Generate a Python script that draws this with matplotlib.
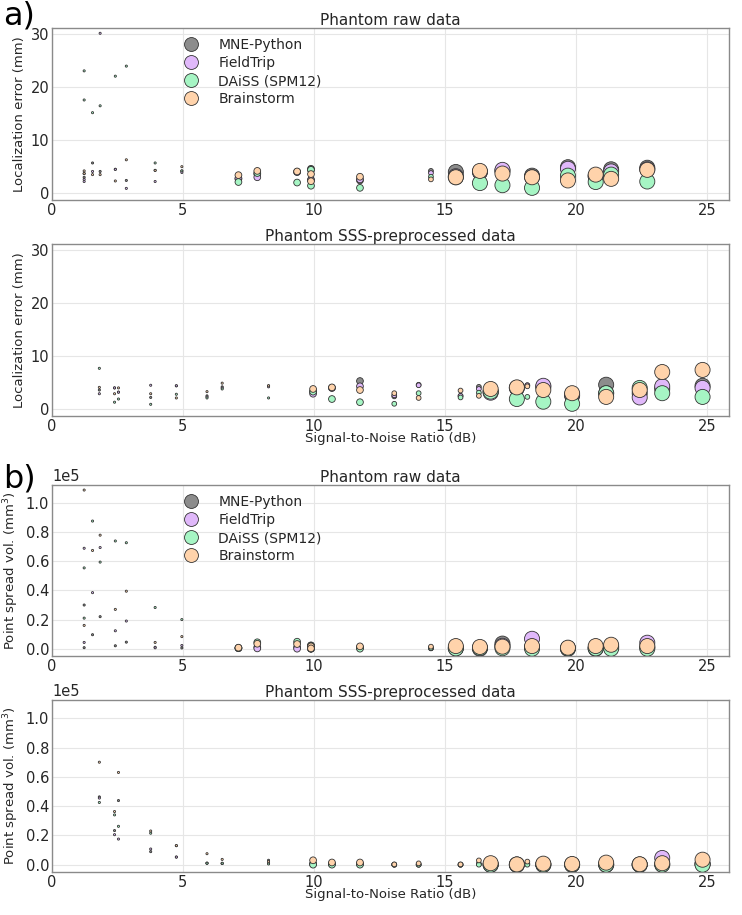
import numpy as np
import matplotlib.pyplot as plt
from matplotlib.lines import Line2D


### Data ############################################################
methods = ['MNE-Python', 'FieldTrip', 'DAiSS (SPM12)', 'Brainstorm']
colors = ['#8c8c8c', '#e0b8fa', '#a6f5c4', '#ffd3ab']

# raw data: SNR (dB) and dipole amplitude (nAm) per dipole
raw_snr = [1.23, 1.23, 1.55, 1.84, 2.42, 2.84, 3.94, 4.96,
           7.12, 7.84, 9.36, 9.89, 9.89, 11.76, 14.47,
           15.42, 16.34, 17.2, 18.33, 19.7, 20.76, 21.35, 22.73]
raw_amp = [20] * 8 + [200] * 6 + [100] + [1000] * 8

# localization error (mm), raw data
raw_loc_mne = [3.7, 3.0, 5.7, 4.1, 4.5, 2.4, 4.3, 4.2,
               2.7, 3.6, 4.0, 4.6, 2.5, 2.4, 4.2,
               4.0, 4.0, 4.2, 3.3, 4.9, 3.2, 4.5, 4.8]
raw_loc_ft = [2.2, 2.6, 4.1, 30.2, 4.5, 0.9, 2.2, 3.9,
              2.8, 3.0, 4.0, 4.4, 2.5, 2.6, 3.8,
              3.2, 4.0, 4.4, 3.0, 4.6, 3.2, 4.1, 4.5]
raw_loc_daiss = [23.1, 17.6, 15.2, 16.5, 22.1, 24.0, 5.7, 4.2,
                 2.1, 3.8, 2.0, 4.4, 1.4, 1.0, 3.1,
                 3.0, 1.9, 1.5, 1.0, 3.3, 2.1, 3.5, 2.2]
raw_loc_bst = [4.2, 3.7, 3.5, 3.5, 2.3, 6.3, 4.3, 5.0,
               3.4, 4.2, 4.1, 3.6, 2.25, 3.1, 2.6,
               3.0, 4.2, 3.7, 3.0, 2.4, 3.5, 2.7, 4.4]

# point spread volume (mm^3), raw data
raw_psf_mne = [30000, 700, 9600, 22000, 2000, 4500, 1000, 500,
               500, 1000, 1000, 2300, 0, 1000, 200,
               300, 500, 3500, 1000, 0, 0, 1000, 1000]
raw_psf_ft = [69000, 4300, 38500, 69500, 12300, 19000, 600, 2200,
              300, 200, 0, 2000, 0, 500, 300,
              500, 0, 2000, 6800, 300, 500, 1500, 4100]
raw_psf_daiss = [55500, 21000, 87700, 59500, 74000, 72800, 28300, 20000,
                 400, 4400, 4800, 2000, 0, 0, 500,
                 200, 400, 300, 0, 200, 200, 0, 0]
raw_psf_bst = [109000, 16000, 67500, 78000, 27000, 39500, 4300, 8300,
               700, 3400, 3200, 1600, 200, 1600, 1400,
               1800, 1200, 1400, 1800, 700, 1800, 2700, 1800]

# SSS-preprocessed data
sss_snr = [1.81, 2.39, 2.54, 3.77, 4.75, 5.92, 6.5, 8.27,
           9.97, 10.69, 11.76, 13.07, 14.0, 15.6, 16.3,
           16.75, 17.75, 18.15, 18.76, 19.86, 21.16, 22.44, 23.3, 24.84]
sss_amp = [20] * 8 + [200] * 3 + [100] * 4 + [1000, 1000, 100] + [1000] * 6

sss_loc_mne = [3.6, 4.0, 3.2, 2.2, 4.4, 2.5, 4.2, 4.4,
               3.3, 4.0, 5.3, 2.4, 4.6, 2.5, 4.2,
               3.3, 4.0, 4.5, 4.2, 2.5, 4.6, 3.0, 3.8, 4.4]
sss_loc_ft = [2.9, 4.0, 3.2, 4.5, 4.4, 2.3, 4.0, 4.2,
              2.9, 4.0, 4.3, 2.6, 4.5, 2.5, 3.8,
              3.1, 4.0, 4.5, 4.4, 2.7, 3.0, 2.2, 4.3, 4.0]
sss_loc_daiss = [7.7, 1.3, 1.9, 0.9, 2.8, 2.1, 3.8, 2.1,
                 3.3, 1.9, 1.3, 1.0, 3.0, 2.2, 3.1,
                 3.3, 1.9, 2.3, 1.4, 1.0, 3.0, 4.0, 3.0, 2.3]
sss_loc_bst = [4.1, 2.9, 4.0, 2.9, 2.1, 3.3, 4.9, 4.4,
               3.8, 4.1, 3.6, 3.0, 2.1, 3.5, 2.5,
               3.8, 4.1, 4.3, 3.6, 3.0, 2.3, 3.6, 7.0, 7.4]

sss_psf_mne = [46300, 23300, 43800, 8900, 5200, 1000, 800, 3000,
               500, 500, 500, 0, 0, 0, 500,
               0, 0, 500, 0, 0, 0, 0, 0, 500]
sss_psf_ft = [45500, 20500, 17500, 10700, 5200, 1000, 800, 1000,
              500, 500, 500, 0, 0, 0, 500,
              0, 0, 500, 0, 0, 0, 0, 4600, 500]
sss_psf_daiss = [42500, 34000, 26200, 21500, 13000, 1000, 1000, 500,
                 0, 0, 0, 0, 0, 0, 0,
                 0, 0, 0, 0, 0, 0, 0, 0, 0]
sss_psf_bst = [70000, 36300, 63000, 23000, 13000, 7500, 3600, 2000,
               3000, 1500, 1500, 200, 900, 200, 2900,
               1000, 200, 2100, 700, 500, 1400, 300, 1000, 3400]
#####################################################################

TXT = '#262626'


def draw(ax, snr, amp, series, ylabel, title, xlabel=None, legend=False):
    sizes = np.array(amp) / 8.5
    for vals, col, lab in zip(series, colors, methods):
        ax.scatter(snr, vals, s=sizes, c=col, edgecolors='#333333',
                   linewidths=0.6, label=lab, zorder=3)
    ax.set_xlim(0, 25.85)
    ax.set_xticks([0, 5, 10, 15, 20, 25])
    ax.grid(True, color='#e6e6e6', linewidth=0.8, zorder=0)
    ax.set_axisbelow(True)
    for sp in ax.spines.values():
        sp.set_color('#8a8a8a')
        sp.set_linewidth(1.0)
    ax.tick_params(length=0, labelsize=10.5, colors=TXT, pad=2)
    ax.set_ylabel(ylabel, fontsize=9.5, color=TXT, labelpad=3)
    ax.set_title(title, fontsize=11, color=TXT, pad=2)
    if xlabel:
        ax.set_xlabel(xlabel, fontsize=9.5, color=TXT, labelpad=-1)
    if legend:
        handles = [Line2D([], [], marker='o', ls='', markersize=10,
                          markerfacecolor=c, markeredgecolor='#333333',
                          markeredgewidth=0.6) for c in colors]
        ax.legend(handles, methods, loc='upper left', bbox_to_anchor=(0.17, 1.0),
                  frameon=False, fontsize=10, labelspacing=0.3,
                  handletextpad=1.0, borderaxespad=0.3, labelcolor=TXT)


fig = plt.figure(figsize=(7.42, 9.15), dpi=100)
ax1 = fig.add_axes([0.070, 0.7814, 0.9125, 0.1880])
ax2 = fig.add_axes([0.070, 0.5454, 0.9125, 0.1880])
ax3 = fig.add_axes([0.070, 0.2831, 0.9125, 0.1869])
ax4 = fig.add_axes([0.070, 0.0470, 0.9125, 0.1880])

snr_label = 'Signal-to-Noise Ratio (dB)'
loc_label = 'Localization error (mm)'
psf_label = 'Point spread vol. (mm$^3$)'

draw(ax1, raw_snr, raw_amp, [raw_loc_mne, raw_loc_ft, raw_loc_daiss, raw_loc_bst],
     loc_label, 'Phantom raw data', legend=True)
draw(ax2, sss_snr, sss_amp, [sss_loc_mne, sss_loc_ft, sss_loc_daiss, sss_loc_bst],
     loc_label, 'Phantom SSS-preprocessed data', xlabel=snr_label)
draw(ax3, raw_snr, raw_amp, [raw_psf_mne, raw_psf_ft, raw_psf_daiss, raw_psf_bst],
     psf_label, 'Phantom raw data', legend=True)
draw(ax4, sss_snr, sss_amp, [sss_psf_mne, sss_psf_ft, sss_psf_daiss, sss_psf_bst],
     psf_label, 'Phantom SSS-preprocessed data', xlabel=snr_label)

for ax in (ax1, ax2):
    ax.set_ylim(-1.3, 31.2)
    ax.set_yticks([0, 10, 20, 30])
for ax in (ax3, ax4):
    ax.set_ylim(-5000, 112500)
    ax.set_yticks([0, 20000, 40000, 60000, 80000, 100000])
    ax.ticklabel_format(axis='y', style='sci', scilimits=(0, 0))
    ax.yaxis.get_offset_text().set_fontsize(10.5)
    ax.yaxis.get_offset_text().set_color(TXT)

fig.text(0.004, 0.999, 'a)', fontsize=23, va='top', ha='left')
fig.text(0.004, 0.493, 'b)', fontsize=23, va='top', ha='left')

fig.savefig('out.png', dpi=100)
